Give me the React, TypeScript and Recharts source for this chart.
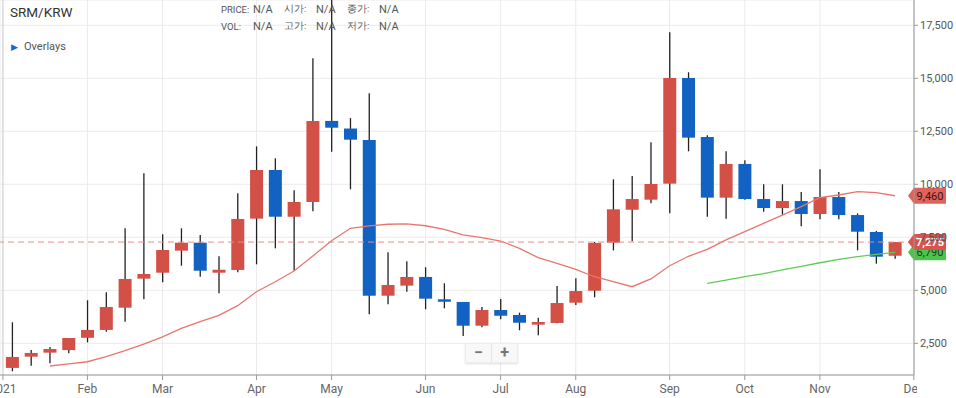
import React from "react";
import { ComposedChart, Bar, Line, XAxis, YAxis, CartesianGrid, ReferenceLine } from "recharts";

// weekly candles, SRM/KRW 2021
const weeks = [
  "01-04", "01-11", "01-18", "01-25", "02-01", "02-08", "02-15", "02-22",
  "03-01", "03-08", "03-15", "03-22", "03-29", "04-05", "04-12", "04-19", "04-26",
  "05-03", "05-10", "05-17", "05-24", "05-31", "06-07", "06-14", "06-21", "06-28",
  "07-05", "07-12", "07-19", "07-26", "08-02", "08-09", "08-16", "08-23", "08-30",
  "09-06", "09-13", "09-20", "09-27", "10-04", "10-11", "10-18", "10-25",
  "11-01", "11-08", "11-15", "11-22", "11-29",
];
const open = [1340, 1870, 2060, 2180, 2760, 3130, 4180, 5550, 5830, 6870, 7245, 5830, 5960, 8380, 10675, 8470, 9165, 12990, 12630, 12090, 4745, 5220, 5630, 4575, 4450, 3330, 4070, 3835, 3380, 3460, 4415, 4980, 7245, 8800, 9275, 10030, 15015, 12230, 9370, 10960, 9305, 8880, 9210, 8600, 9400, 8550, 7750, 6630];
const close = [1855, 2045, 2230, 2750, 3130, 4210, 5535, 5770, 6900, 7245, 5925, 5970, 8365, 10675, 8470, 9165, 12985, 12670, 12105, 4745, 5250, 5630, 4605, 4460, 3330, 4070, 3800, 3470, 3505, 4400, 4965, 7230, 8820, 9305, 10015, 15015, 12200, 9370, 10960, 9305, 8880, 9210, 8600, 9400, 8550, 7765, 6585, 7275];
const high = [3490, 2185, 2325, 2750, 4530, 4905, 7925, 10520, 7640, 7925, 7610, 6605, 9575, 11790, 11225, 9715, 15945, 18700, 13125, 14290, 6790, 6370, 6085, 5330, 4450, 4215, 4590, 3945, 3705, 5200, 5565, 7280, 10235, 10390, 11980, 17170, 15285, 12310, 11555, 11130, 10000, 10000, 9635, 10710, 9635, 8630, 7800, 7275];
const low = [1180, 1445, 1555, 2030, 2545, 3045, 3520, 4575, 5375, 6160, 5640, 4860, 5850, 6225, 6980, 5925, 8725, 11540, 9765, 3870, 4340, 4935, 4105, 4150, 2845, 3255, 3630, 3115, 2875, 3445, 4305, 4670, 6885, 7310, 9105, 8630, 11555, 8470, 8375, 9275, 8710, 8565, 8020, 8350, 8350, 6885, 6255, 6490];
const maRed = [null, null, 1430, 1525, 1630, 1870, 2150, 2465, 2800, 3205, 3520, 3820, 4275, 4935, 5405, 5910, 6620, 7340, 7925, 8035, 8115, 8130, 8045, 7875, 7610, 7480, 7325, 6980, 6540, 6275, 5990, 5640, 5405, 5170, 5535, 6160, 6605, 6935, 7375, 7765, 8160, 8550, 8945, 9370, 9495, 9650, 9605, 9460];
const maGreen = [
  null, null, null, null, null, null, null, null, null, null, null, null, null,
  null, null, null, null, null, null, null, null, null, null, null, null, null,
  null, null, null, null, null, null, null, null, null, null, null,
  5330, 5485, 5640, 5790, 5960, 6125, 6300, 6455, 6585, 6690, 6790,
];

const monthTicks = [-0.5, 4, 8, 13, 17, 22, 26, 30, 35, 39, 43, 48];
const monthLabels = ["2021", "Feb", "Mar", "Apr", "May", "Jun", "Jul", "Aug", "Sep", "Oct", "Nov", "Dec"];
const priceTicks = [2500, 5000, 7500, 10000, 12500, 15000, 17500];

const RED = "#d35046";
const BLUE = "#1262c4";

const data = weeks.map((w, i) => ({
  i,
  week: w,
  range: [low[i], high[i]],
  open: open[i],
  close: close[i],
  high: high[i],
  low: low[i],
  maRed: maRed[i],
  maGreen: maGreen[i],
}));

function Candle(props: any) {
  const { x, y, width, height, payload } = props;
  if (x == null || y == null) return null;
  const top = Math.min(y, y + height);
  const bottom = Math.max(y, y + height);
  const k = (bottom - top) / (payload.high - payload.low || 1);
  const py = (v: number) => bottom - (v - payload.low) * k;
  const up = payload.close >= payload.open;
  const cx = x + width / 2;
  const bTop = py(Math.max(payload.open, payload.close));
  const bBot = py(Math.min(payload.open, payload.close));
  return (
    <g>
      <line x1={cx} x2={cx} y1={top} y2={bottom} stroke="#222" strokeWidth={1.3} />
      <rect x={x} y={bTop} width={width} height={Math.max(bBot - bTop, 1.5)} fill={up ? RED : BLUE} />
    </g>
  );
}

function MonthTick(props: any) {
  const { x, y, payload } = props;
  const label = monthLabels[monthTicks.indexOf(payload.value)];
  const isLast = payload.value === 48;
  return (
    <g>
      {isLast && (
        <defs>
          <clipPath id="lastTickClip">
            <rect x={0} y={370} width={917} height={30} />
          </clipPath>
        </defs>
      )}
      <text
        x={x}
        y={y}
        dy={11}
        textAnchor="middle"
        fontSize={12}
        fill="#666"
        clipPath={isLast ? "url(#lastTickClip)" : undefined}
      >
        {label}
      </text>
    </g>
  );
}

function Tag(props: any) {
  const { viewBox, text, bg, fg, bold } = props;
  if (!viewBox) return null;
  const y = viewBox.y;
  const x0 = viewBox.x + viewBox.width - 6;
  return (
    <g>
      <path d={`M${x0} ${y} L${x0 + 6} ${y - 8} H${x0 + 38} V${y + 8} H${x0 + 6} Z`} fill={bg} />
      <text x={x0 + 22} y={y} dy="0.36em" textAnchor="middle" fontSize={11} fill={fg} fontWeight={bold ? 700 : 400}>
        {text}
      </text>
    </g>
  );
}

const infoLabel: React.CSSProperties = { position: "absolute", fontSize: 9.5, color: "#555" };
const infoVal: React.CSSProperties = { position: "absolute", fontSize: 11, color: "#555" };

export default function App() {
  return (
    <div style={{ position: "absolute", left: 0, top: 0, width: 956, height: 398, fontFamily: "Roboto, sans-serif", background: "#fff" }}>
      <ComposedChart width={956} height={398} data={data} margin={{ top: 0, right: 0, left: 0, bottom: 0 }}>
        <CartesianGrid stroke="#ebebeb" />
        <ReferenceLine x={-0.5} stroke="#d0d0d0" />
        <XAxis
          dataKey="i"
          type="number"
          domain={[-0.655, 48.01]}
          ticks={monthTicks}
          interval={0}
          allowDataOverflow
          height={23}
          tickSize={5}
          stroke="#999"
          tick={<MonthTick />}
        />
        <YAxis
          orientation="right"
          width={42}
          domain={[1005, 18693]}
          allowDataOverflow
          ticks={priceTicks}
          interval={0}
          tickSize={4}
          stroke="#999"
          tick={{ fontSize: 11, fill: "#555" }}
          tickFormatter={(v: number) => v.toLocaleString("en-US")}
        />
        <Line dataKey="maRed" type="linear" stroke="#e8766f" strokeWidth={1.3} dot={false} isAnimationActive={false} />
        <Line dataKey="maGreen" type="linear" stroke="#5fcc55" strokeWidth={1.3} dot={false} isAnimationActive={false} />
        <Bar dataKey="range" barSize={13} shape={<Candle />} isAnimationActive={false} />
        <ReferenceLine y={7275} stroke="#e3908b" strokeDasharray="6 4" />
        <ReferenceLine y={6790} stroke="none" label={<Tag text="6,790" bg="#4cc44c" fg="#1d3a1d" />} />
        <ReferenceLine y={9460} stroke="none" label={<Tag text="9,460" bg="#e0625a" fg="#3a1515" />} />
        <ReferenceLine y={7275} stroke="none" label={<Tag text="7,275" bg="#d9534f" fg="#fff" bold />} />
      </ComposedChart>

      <div style={{ position: "absolute", left: 10, top: 4, fontSize: 13.5, color: "#333" }}>SRM/KRW</div>
      <div style={{ position: "absolute", left: 11, top: 40, fontSize: 11, color: "#555", display: "flex", alignItems: "center" }}>
        <span style={{ color: "#1a66d6", fontSize: 9, marginRight: 6 }}>▶</span>Overlays
      </div>

      <div style={{ ...infoLabel, left: 221, top: 4 }}>PRICE:</div>
      <div style={{ ...infoVal, left: 253, top: 3 }}>N/A</div>
      <div style={{ ...infoLabel, left: 284, top: 3 }}>시가:</div>
      <div style={{ ...infoVal, left: 316, top: 3 }}>N/A</div>
      <div style={{ ...infoLabel, left: 347, top: 3 }}>종가:</div>
      <div style={{ ...infoVal, left: 379, top: 3 }}>N/A</div>
      <div style={{ ...infoLabel, left: 221, top: 21 }}>VOL:</div>
      <div style={{ ...infoVal, left: 253, top: 20 }}>N/A</div>
      <div style={{ ...infoLabel, left: 284, top: 20 }}>고가:</div>
      <div style={{ ...infoVal, left: 316, top: 20 }}>N/A</div>
      <div style={{ ...infoLabel, left: 347, top: 20 }}>저가:</div>
      <div style={{ ...infoVal, left: 379, top: 20 }}>N/A</div>

      <div
        style={{
          position: "absolute",
          left: 465,
          top: 343,
          width: 51,
          height: 18,
          background: "#f8f8f8",
          border: "1px solid #eee",
          boxShadow: "0 1px 2px rgba(0,0,0,0.12)",
          display: "flex",
          color: "#777",
          fontSize: 16,
          fontWeight: 700,
          lineHeight: "18px",
        }}
      >
        <div style={{ flex: 1, textAlign: "center", borderRight: "1px solid #e4e4e4" }}>−</div>
        <div style={{ flex: 1, textAlign: "center" }}>+</div>
      </div>
    </div>
  );
}
